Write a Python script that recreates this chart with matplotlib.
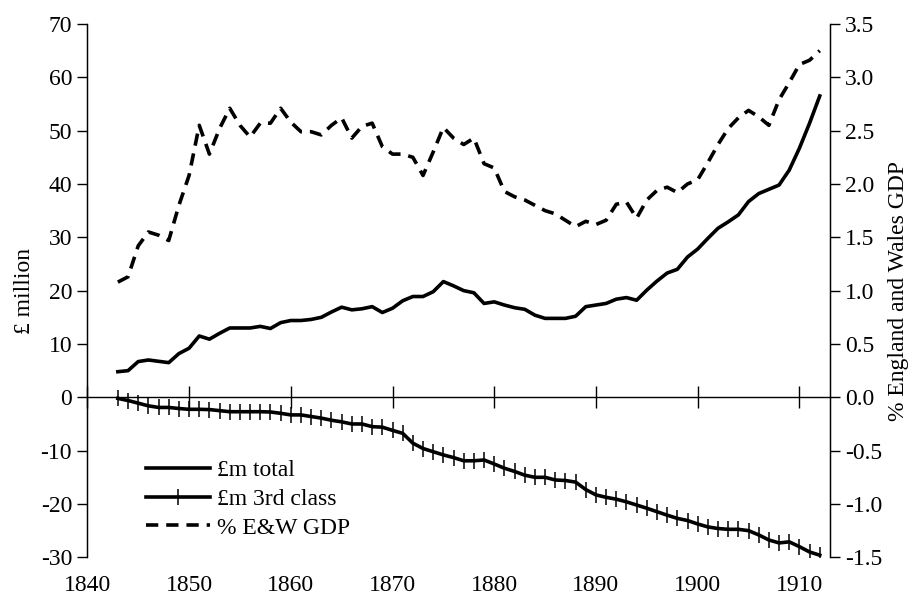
import numpy as np
import matplotlib as mpl
import matplotlib.pyplot as plt

mpl.rcParams["font.family"] = ["Liberation Serif", "DejaVu Serif"]
mpl.rcParams["font.size"] = 17
mpl.rcParams["axes.unicode_minus"] = False

years = list(range(1843, 1913))

total = [4.8, 5.0, 6.7, 7.0, 6.75, 6.5, 8.2, 9.2, 11.5, 10.9,
         12.0, 13.0, 13.0, 13.0, 13.3, 12.9, 14.0, 14.4, 14.4, 14.6,
         15.0, 16.0, 16.9, 16.4, 16.6, 17.0, 15.9, 16.7, 18.1, 18.9,
         18.9, 19.8, 21.7, 20.9, 20.0, 19.6, 17.6, 17.9, 17.3, 16.8,
         16.5, 15.4, 14.8, 14.8, 14.8, 15.2, 17.0, 17.3, 17.6, 18.4,
         18.7, 18.2, 20.1, 21.8, 23.3, 24.0, 26.3, 27.8, 29.8, 31.7,
         32.9, 34.2, 36.7, 38.2, 39.0, 39.8, 42.6, 46.7, 51.4, 56.5]

third_class = [-0.2, -0.6, -1.1, -1.6, -1.9, -1.9, -2.1, -2.25, -2.25, -2.3,
               -2.5, -2.7, -2.7, -2.7, -2.7, -2.75, -3.0, -3.3, -3.3, -3.6,
               -3.9, -4.3, -4.6, -5.0, -5.0, -5.5, -5.6, -6.2, -6.75, -8.6,
               -9.6, -10.2, -10.8, -11.3, -11.9, -11.9, -11.75, -12.5, -13.3, -13.9,
               -14.6, -15.0, -15.0, -15.5, -15.6, -15.9, -17.3, -18.3, -18.75, -19.1,
               -19.6, -20.2, -20.8, -21.45, -22.1, -22.7, -23.1, -23.75, -24.3, -24.6,
               -24.75, -24.75, -25.0, -25.8, -26.75, -27.3, -27.1, -28.0, -29.0, -29.6]

gdp_pct = [1.08, 1.13, 1.42, 1.55, 1.52, 1.47, 1.80, 2.08, 2.55, 2.28,
           2.52, 2.71, 2.55, 2.44, 2.57, 2.57, 2.71, 2.58, 2.49, 2.49,
           2.46, 2.55, 2.62, 2.43, 2.54, 2.57, 2.35, 2.28, 2.28, 2.25,
           2.08, 2.30, 2.53, 2.43, 2.37, 2.43, 2.19, 2.15, 1.93, 1.88,
           1.85, 1.80, 1.75, 1.72, 1.66, 1.60, 1.65, 1.62, 1.66, 1.81,
           1.83, 1.68, 1.85, 1.94, 1.97, 1.92, 2.00, 2.04, 2.20, 2.37,
           2.52, 2.62, 2.69, 2.63, 2.55, 2.79, 2.95, 3.12, 3.16, 3.25]

fig = plt.figure(figsize=(9.08, 6.04), dpi=100)
ax = fig.add_axes([0.0962, 0.0773, 0.8178, 0.883])
ax2 = ax.twinx()

l1, = ax.plot(years, total, color="black", lw=2.6, label="£m total")
l2, = ax.plot(years, third_class, color="black", lw=2.6, marker="|",
              markersize=12, markeredgewidth=1.1, label="£m 3rd class")
l3, = ax2.plot(years, gdp_pct, color="black", lw=2.6, linestyle=(0, (3.4, 2.2)),
               label="% E&W GDP")

ax.set_xlim(1840, 1913)
ax.set_ylim(-30, 70)
ax2.set_ylim(-1.5, 3.5)
ax.set_yticks(np.arange(-30, 71, 10))
ax2.set_yticks(np.arange(-1.5, 3.51, 0.5))
ax2.set_yticklabels([f"{v:.1f}" for v in np.arange(-1.5, 3.51, 0.5)])

# x labels at the bottom, axis line with ticks at zero
ax.set_xticks(range(1840, 1911, 10))
ax.tick_params(axis="x", length=0, pad=13)
for a in (ax, ax2):
    a.spines["top"].set_visible(False)
    a.spines["bottom"].set_visible(False)
zero = ax.secondary_xaxis(0.3)
zero.set_xticks(range(1840, 1911, 10))
zero.tick_params(axis="x", direction="inout", length=16, width=1, labelbottom=False)
zero.spines["bottom"].set_linewidth(1)

ax.tick_params(axis="y", direction="out", length=7, width=1, pad=4)
ax2.tick_params(axis="y", direction="out", length=7, width=1, pad=4)
ax.spines["left"].set_linewidth(1)
ax2.spines["right"].set_linewidth(1)

ax.set_ylabel("£ million", labelpad=4)
ax2.set_ylabel("% England and Wales GDP", labelpad=4)

ax.legend(handles=[l1, l2, l3], loc="upper left", bbox_to_anchor=(0.063, 0.205),
          frameon=False, handlelength=2.7, handletextpad=0.3, labelspacing=0.3,
          borderpad=0)

fig.savefig("out.png", dpi=100)
